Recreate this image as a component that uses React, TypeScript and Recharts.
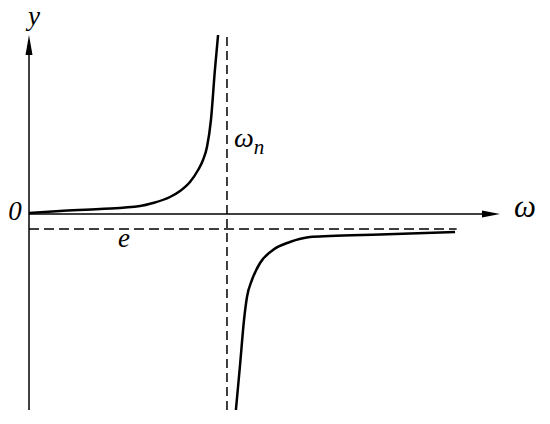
import { LineChart, Line, XAxis, YAxis, ReferenceLine, Customized } from 'recharts'

// frequency response sketch, ω_n normalised to 1
const lowOmega = [0, 0.157, 0.359, 0.561, 0.626, 0.712, 0.763, 0.813, 0.854, 0.879, 0.899, 0.919, 0.939, 0.955]
const lowY = [0.01, 0.03, 0.05, 0.08, 0.11, 0.17, 0.23, 0.32, 0.44, 0.54, 0.67, 0.94, 1.44, 1.79]

const highOmega = [1.045, 1.066, 1.086, 1.101, 1.126, 1.167, 1.232, 1.318, 1.419, 1.52, 1.773, 2.152]
const highY = [-1.96, -1.51, -1.06, -0.83, -0.66, -0.49, -0.36, -0.28, -0.23, -0.22, -0.205, -0.18]

const omegaN = 1
const eLevel = -0.15
const eEnd = 2.16

const lowData = lowOmega.map((w, i) => ({ w, y: lowY[i] }))
const highData = highOmega.map((w, i) => ({ w, y: highY[i] }))

const textStyle = { fontFamily: '"Liberation Serif", "Times New Roman", serif', fontStyle: 'italic' as const }

const XArrow = (p: any) => (
  <g>
    <line x1={p.x1} y1={p.y1} x2={p.x2 - 10} y2={p.y2} stroke="#000" strokeWidth={1.5} />
    <polygon points={`${p.x2},${p.y2} ${p.x2 - 18},${p.y2 - 3.5} ${p.x2 - 18},${p.y2 + 3.5}`} fill="#000" />
  </g>
)

const YArrow = (p: any) => {
  const top = Math.min(p.y1, p.y2)
  const bottom = Math.max(p.y1, p.y2)
  return (
    <g>
      <line x1={p.x1} y1={bottom} x2={p.x1} y2={top + 10} stroke="#000" strokeWidth={1.5} />
      <polygon points={`${p.x1},${top} ${p.x1 - 3.5},${top + 20} ${p.x1 + 3.5},${top + 20}`} fill="#000" />
    </g>
  )
}

const Labels = () => (
  <g fill="#000">
    <text x={34} y={25} fontSize={27} textAnchor="middle" style={textStyle}>y</text>
    <text x={15} y={220} fontSize={27} textAnchor="middle" style={textStyle}>0</text>
    <text x={525} y={217} fontSize={31} textAnchor="middle" style={textStyle}>ω</text>
    <text x={124} y={247} fontSize={27} textAnchor="middle" style={textStyle}>e</text>
    <text x={234} y={147} fontSize={28} style={textStyle}>
      ω<tspan fontSize={21} dy={7}>n</tspan>
    </text>
  </g>
)

export default function App() {
  return (
    <div style={{ position: 'absolute', left: 0, top: 0 }}>
      <LineChart
        width={550}
        height={424}
        margin={{ top: 35, right: 50, bottom: 14, left: 29 }}
      >
        <XAxis type="number" dataKey="w" domain={[0, 2.379]} hide allowDataOverflow />
        <YAxis type="number" dataKey="y" domain={[-1.96, 1.79]} hide allowDataOverflow />
        <ReferenceLine y={0} shape={XArrow} ifOverflow="visible" />
        <ReferenceLine x={0} shape={YArrow} ifOverflow="visible" />
        <ReferenceLine x={omegaN} stroke="#000" strokeWidth={1.5} strokeDasharray="9 5" />
        <ReferenceLine
          segment={[{ x: 0, y: eLevel }, { x: eEnd, y: eLevel }]}
          stroke="#000"
          strokeWidth={1.5}
          strokeDasharray="10 5"
        />
        <Line
          data={lowData}
          dataKey="y"
          type="monotone"
          stroke="#000"
          strokeWidth={2.5}
          dot={false}
          isAnimationActive={false}
        />
        <Line
          data={highData}
          dataKey="y"
          type="monotone"
          stroke="#000"
          strokeWidth={2.5}
          dot={false}
          isAnimationActive={false}
        />
        <Customized component={Labels} />
      </LineChart>
    </div>
  )
}
